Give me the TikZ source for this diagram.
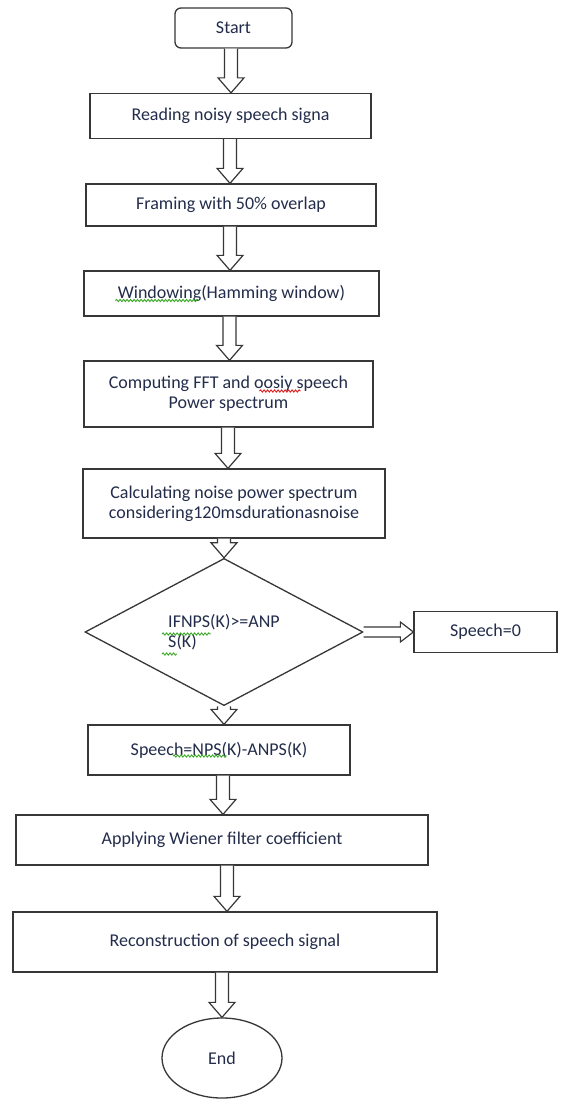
\documentclass[tikz,border=0pt]{standalone}
\usepackage{fontspec}
\setmainfont{Carlito}
\usetikzlibrary{shapes.geometric,calc,decorations.pathmorphing}
\definecolor{ln}{RGB}{55,55,55}
\definecolor{tx}{RGB}{35,45,75}
\definecolor{sqgreen}{RGB}{60,170,40}
\definecolor{sqred}{RGB}{225,30,30}
% vertical block arrow: from node anchor, to node anchor, x position
\newcommand\varrow[3]{%
  \draw[blk] let \p1=(#1), \p2=(#2) in
    (#3pt-6.5pt,\y1) -- (#3pt-6.5pt,\y2+15pt) -- (#3pt-13pt,\y2+15pt) -- (#3pt,\y2)
    -- (#3pt+13pt,\y2+15pt) -- (#3pt+6.5pt,\y2+15pt) -- (#3pt+6.5pt,\y1);}
% horizontal block arrow
\newcommand\harrow[2]{%
  \draw[blk] let \p1=(#1), \p2=(#2) in
    (\x1,\y1+5pt) -- (\x2-13pt,\y1+5pt) -- (\x2-13pt,\y1+10pt) -- (\x2,\y1)
    -- (\x2-13pt,\y1-10pt) -- (\x2-13pt,\y1-5pt) -- (\x1,\y1-5pt);}
\begin{document}
\begin{tikzpicture}[x=1pt,y=-1pt,
  every node/.style={font=\fontsize{18}{20}\selectfont, text=tx},
  box/.style={draw=ln, line width=1.3pt, rectangle, inner sep=0pt, align=center},
  startbox/.style={box, rounded corners=6pt},
  dia/.style={draw=ln, line width=1.3pt, diamond, inner sep=0pt, align=left},
  endell/.style={draw=ln, line width=1.3pt, ellipse, inner sep=0pt},
  blk/.style={draw=ln, line width=1.2pt, fill=white, line join=miter},
  squig/.style={decorate, decoration={snake, amplitude=1.1pt, segment length=3.5pt}, line width=0.9pt}]
\useasboundingbox (0,0) rectangle (560,1100);
\fill[white] (0,0) rectangle (560,1100);

\node[startbox, minimum width=117pt, minimum height=40pt] (start) at (233.5,28) {Start};
\node[box, minimum width=281pt, minimum height=45pt] (r1) at (230.5,116) {Reading noisy speech signa};
\node[box, minimum width=290pt, minimum height=42pt] (r2) at (231,205) {Framing with 50\% overlap};
\node[box, minimum width=295pt, minimum height=45pt] (r3) at (231.5,293.5) {Windowing(Hamming window)};
\node[box, minimum width=289pt, minimum height=66pt] (r4) at (228.5,394) {Computing FFT and oosiy speech\\Power spectrum};
\node[box, minimum width=302pt, minimum height=69pt] (r5) at (234,503.5) {Calculating noise power spectrum\\considering120msdurationasnoise};
\node[dia, minimum width=278pt, minimum height=115pt] (dia) at (224,632) {IFNPS(K)>=ANP\\S(K)};
\node[box, minimum width=143pt, minimum height=41pt] (s0) at (485.5,632) {Speech=0};
\node[box, minimum width=262pt, minimum height=50pt] (r6) at (219,750) {Speech=NPS(K)-ANPS(K)};
\node[box, minimum width=412pt, minimum height=50pt] (r7) at (222,840) {Applying Wiener filter coefficient};
\node[box, minimum width=424pt, minimum height=60pt] (r8) at (225,942) {Reconstruction of speech signal};
\node[endell, minimum width=120pt, minimum height=80pt] (end) at (222,1058) {End};

% spell-check squiggles
\draw[squig, sqgreen] ($(r3.center)+(-116,7)$) -- ($(r3.center)+(-33,7)$);
\draw[squig, sqred] ($(r4.center)+(31,-3)$) -- ($(r4.center)+(72,-3)$);
\draw[squig, sqgreen] ($(dia.center)+(-62,2)$) -- ($(dia.center)+(-13,2)$);
\draw[squig, sqgreen] ($(dia.center)+(-62,22)$) -- ($(dia.center)+(-47,22)$);
\draw[squig, sqgreen] ($(r6.center)+(-46,6)$) -- ($(r6.center)+(8,6)$);

\varrow{start.south}{r1.north}{231}
\varrow{r1.south}{r2.north}{230}
\varrow{r2.south}{r3.north}{230}
\varrow{r3.south}{r4.north}{229.5}
\varrow{r4.south}{r5.north}{228}
\varrow{r5.south}{dia.north}{224}
\harrow{dia.east}{s0.west}
\varrow{dia.south}{r6.north}{224}
\varrow{r6.south}{r7.north}{223}
\varrow{r7.south}{r8.north}{227}
\varrow{r8.south}{end.north}{222}
\end{tikzpicture}
\end{document}
